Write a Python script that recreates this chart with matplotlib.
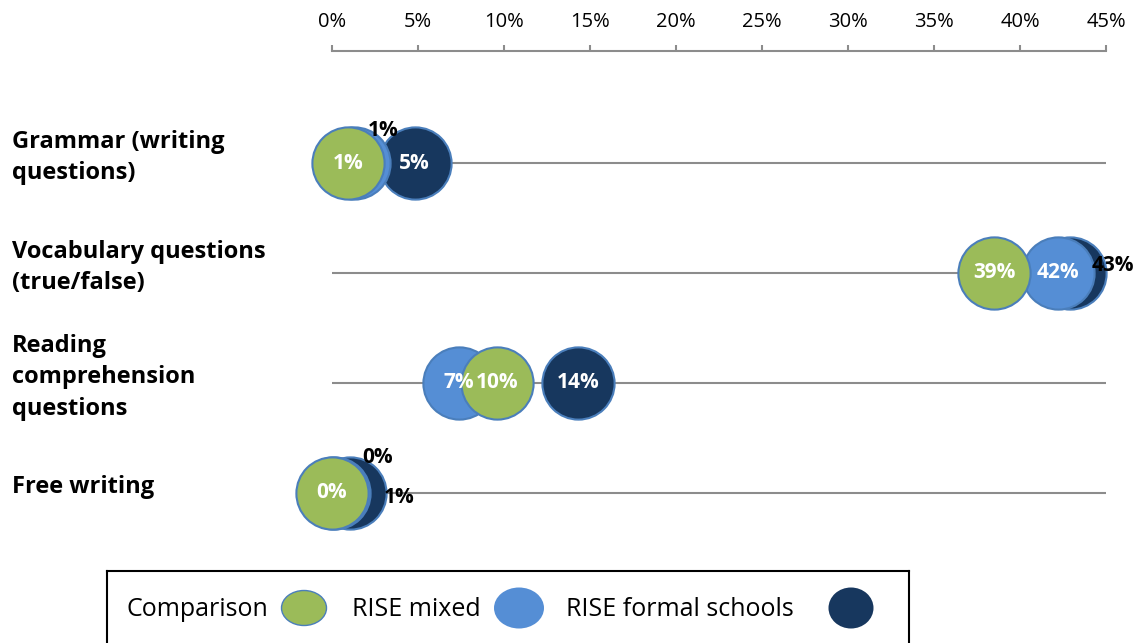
#!/usr/bin/env python3
import matplotlib
matplotlib.use('Agg')
import matplotlib.pyplot as plt
from matplotlib.patches import Ellipse
from matplotlib.ticker import FuncFormatter

# -----------------------------
# Data
# -----------------------------
categories = ['Grammar (writing\nquestions)',
              'Vocabulary questions\n(true/false)',
              'Reading\ncomprehension\nquestions',
              'Free writing']
series = ['Comparison', 'RISE mixed', 'RISE formal schools']
comparison = [0.93, 38.5, 9.6, 0.0]
rise_mixed = [1.3, 42.2, 7.4, 0.1]
rise_formal = [4.8, 42.9, 14.3, 1.05]
labels_comparison = ['1%', '39%', '10%', '0%']
labels_mixed = ['1%', '42%', '7%', '0%']
labels_formal = ['5%', '43%', '14%', '1%']
xticks = [0, 5, 10, 15, 20, 25, 30, 35, 40, 45]

colors = {'Comparison': '#9bbb59', 'RISE mixed': '#558ed5',
          'RISE formal schools': '#17375e'}
edge = '#4a7ebb'

# where a label sits outside its (hidden) bubble: (series, row) -> pixel offset, ha
outside = {('RISE mixed', 0): (29, 33, 'center'),
           ('RISE formal schools', 1): (43, 7, 'center'),
           ('RISE mixed', 3): (44, 35, 'center'),
           ('RISE formal schools', 3): (34, -5, 'left')}

plt.rcParams['font.family'] = ['Open Sans', 'DejaVu Sans']

# -----------------------------
# Figure
# -----------------------------
fig = plt.figure(figsize=(11.4, 6.43), dpi=100)
ax = fig.add_axes([332 / 1140, 103 / 643, 774 / 1140, 489 / 643])

rows = list(range(len(categories)))
ax.hlines(rows, 0, 45, color='#8c8c8c', lw=1.5, zorder=1)

data = [('RISE formal schools', rise_formal, labels_formal),
        ('RISE mixed', rise_mixed, labels_mixed),
        ('Comparison', comparison, labels_comparison)]
for z, (name, vals, labs) in enumerate(data):
    ax.plot(vals, rows, 'o', ms=52, mfc=colors[name], mec=edge, mew=1.5,
            zorder=2 + z, clip_on=False, ls='none')
    for r, (v, lab) in enumerate(zip(vals, labs)):
        if (name, r) in outside:
            dx, dy, ha = outside[(name, r)]
            ax.annotate(lab, (v, r), xytext=(dx, dy), textcoords='offset pixels',
                        ha=ha, va='center', fontsize=15, fontweight='bold',
                        color='black', zorder=10, annotation_clip=False)
        else:
            ax.annotate(lab, (v, r), ha='center', va='center', fontsize=15,
                        fontweight='bold', color='white', zorder=10,
                        annotation_clip=False)

ax.set_xlim(0, 45)
ax.set_ylim(3.43, -1.02)
ax.set_xticks(xticks)
ax.xaxis.set_major_formatter(FuncFormatter(lambda v, p: f'{v:.0f}%'))
ax.xaxis.tick_top()
ax.tick_params(axis='x', direction='out', length=4.5, width=1.5, color='#8c8c8c',
               labelsize=14.5, pad=9)
ax.set_yticks([])
for s in ['left', 'right', 'bottom']:
    ax.spines[s].set_visible(False)
ax.spines['top'].set_color('#8c8c8c')
ax.spines['top'].set_linewidth(1.5)
ax.patch.set_alpha(0)

# category labels on the left
trans = matplotlib.transforms.blended_transform_factory(fig.transFigure, ax.transData)
for r, cat in enumerate(categories):
    ax.text(12 / 1140, r - 0.05, cat, transform=trans, ha='left', va='center',
            fontsize=17, fontweight='bold', linespacing=1.4)

# -----------------------------
# Legend box
# -----------------------------
lax = fig.add_axes([107 / 1140, 0, 802 / 1140, 72 / 643])
lax.set_xlim(107, 909)
lax.set_ylim(643, 571)
lax.set_xticks([])
lax.set_yticks([])
lax.spines['bottom'].set_visible(False)
for s in ['left', 'right', 'top']:
    lax.spines[s].set_linewidth(1.5)
leg_items = [('Comparison', 127, 304, 45, 35, edge),
             ('RISE mixed', 352, 519, 50, 41, 'none'),
             ('RISE formal schools', 566, 851, 45, 41, 'none')]
for name, tx, ex, w, h, ec in leg_items:
    lax.text(tx, 610, name, ha='left', va='center', fontsize=18)
    lax.add_patch(Ellipse((ex, 608), w, h, fc=colors[name], ec=ec, lw=1))

fig.savefig('out.png', dpi=100)
